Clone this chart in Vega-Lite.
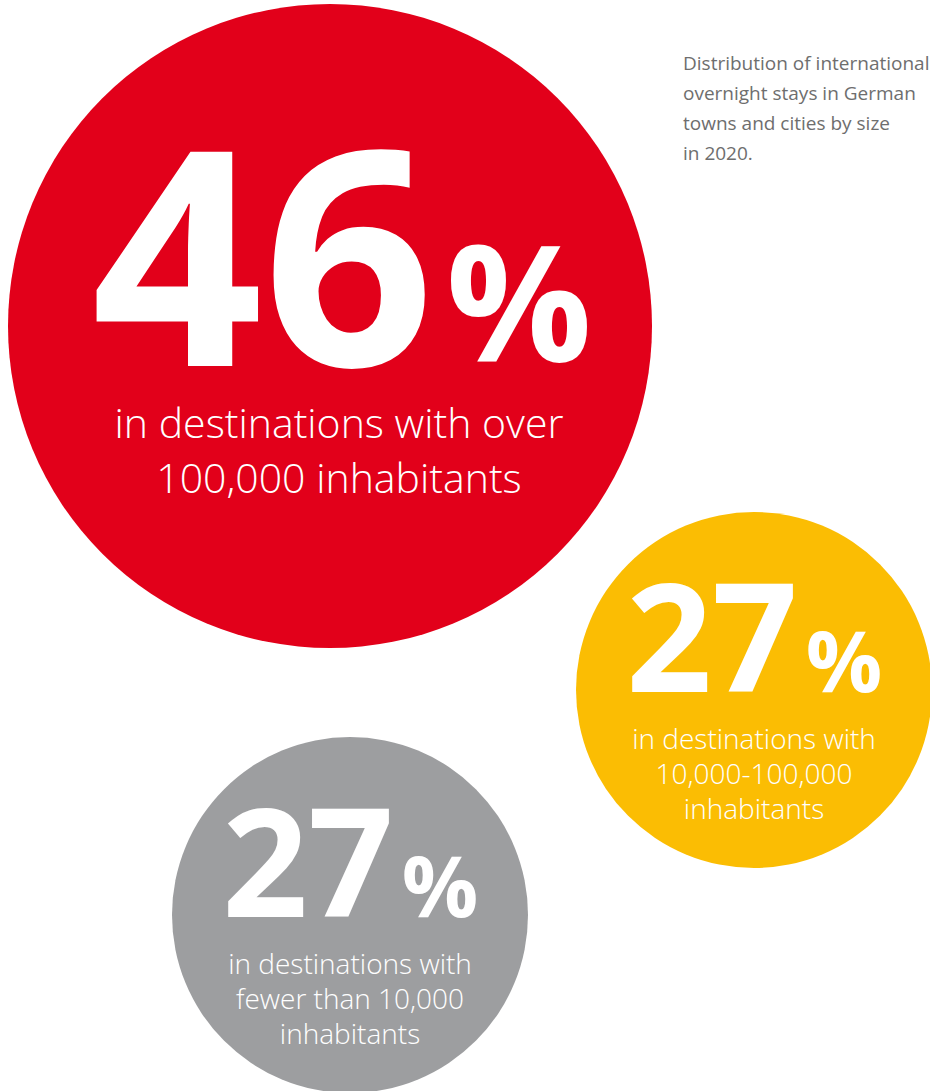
{
  "$schema": "https://vega.github.io/schema/vega-lite/v6.json",
  "autosize": {"type": "none"},
  "padding": 0,
  "width": 930,
  "height": 1091,
  "background": "white",
  "config": {"view": {"stroke": null}},
  "datasets": {
    "bubbles": [
      {"group": "over 100,000", "value": 46, "cx": 330, "cy": 326, "label": "in destinations with over\n100,000 inhabitants"},
      {"group": "10,000-100,000", "value": 27, "cx": 754, "cy": 690, "label": "in destinations with\n10,000-100,000\ninhabitants"},
      {"group": "under 10,000", "value": 27, "cx": 350, "cy": 915, "label": "in destinations with\nfewer than 10,000\ninhabitants"}
    ],
    "caption": [
      {"cx": 683, "cy": 64, "text": "Distribution of international\novernight stays in German\ntowns and cities by size\nin 2020."}
    ]
  },
  "encoding": {
    "x": {"field": "cx", "type": "quantitative", "scale": {"domain": [0, 930], "nice": false, "zero": false}, "axis": null},
    "y": {"field": "cy", "type": "quantitative", "scale": {"domain": [0, 1091], "nice": false, "zero": false, "reverse": true}, "axis": null}
  },
  "layer": [
    {
      "data": {"name": "bubbles"},
      "mark": {"type": "point", "shape": "circle", "filled": true, "opacity": 1, "strokeWidth": 0},
      "encoding": {
        "size": {"field": "value", "type": "quantitative", "scale": {"domain": [27, 46], "range": [126736, 414736], "zero": false}, "legend": null},
        "color": {"field": "group", "type": "nominal", "scale": {"domain": ["over 100,000", "10,000-100,000", "under 10,000"], "range": ["#E2001A", "#FBBD03", "#9D9EA0"]}, "legend": null}
      }
    },
    {
      "data": {"name": "bubbles"},
      "transform": [{"filter": "datum.value > 40"}],
      "layer": [
        {
          "mark": {"type": "text", "font": "Open Sans", "fontWeight": "bold", "fontSize": 300, "color": "white", "align": "center", "baseline": "alphabetic", "dx": -67, "dy": 40},
          "encoding": {"text": {"field": "value", "type": "quantitative"}}
        },
        {
          "mark": {"type": "text", "font": "Open Sans", "fontWeight": "bold", "fontSize": 162, "color": "white", "align": "center", "baseline": "alphabetic", "dx": 189, "dy": 36, "text": "%"},
          "encoding": {}
        },
        {
          "mark": {"type": "text", "font": "Open Sans", "fontWeight": 300, "fontSize": 41, "lineHeight": 55, "lineBreak": "\n", "color": "white", "align": "center", "baseline": "middle", "dx": 9, "dy": 100},
          "encoding": {"text": {"field": "label", "type": "nominal"}}
        }
      ]
    },
    {
      "data": {"name": "bubbles"},
      "transform": [{"filter": "datum.value < 40"}],
      "layer": [
        {
          "mark": {"type": "text", "font": "Open Sans", "fontWeight": "bold", "fontSize": 150, "color": "white", "align": "center", "baseline": "alphabetic", "dx": -42, "dy": 2},
          "encoding": {"text": {"field": "value", "type": "quantitative"}}
        },
        {
          "mark": {"type": "text", "font": "Open Sans", "fontWeight": "bold", "fontSize": 85, "color": "white", "align": "center", "baseline": "alphabetic", "dx": 90, "dy": 2, "text": "%"},
          "encoding": {}
        },
        {
          "mark": {"type": "text", "font": "Open Sans", "fontWeight": 300, "fontSize": 28, "lineHeight": 35, "lineBreak": "\n", "color": "white", "align": "center", "baseline": "middle", "dx": 0, "dy": 51},
          "encoding": {"text": {"field": "label", "type": "nominal"}}
        }
      ]
    },
    {
      "data": {"name": "caption"},
      "mark": {"type": "text", "font": "Open Sans", "fontSize": 19, "lineHeight": 30, "lineBreak": "\n", "color": "#6E6E6E", "align": "left", "baseline": "middle"},
      "encoding": {"text": {"field": "text", "type": "nominal"}}
    }
  ]
}
